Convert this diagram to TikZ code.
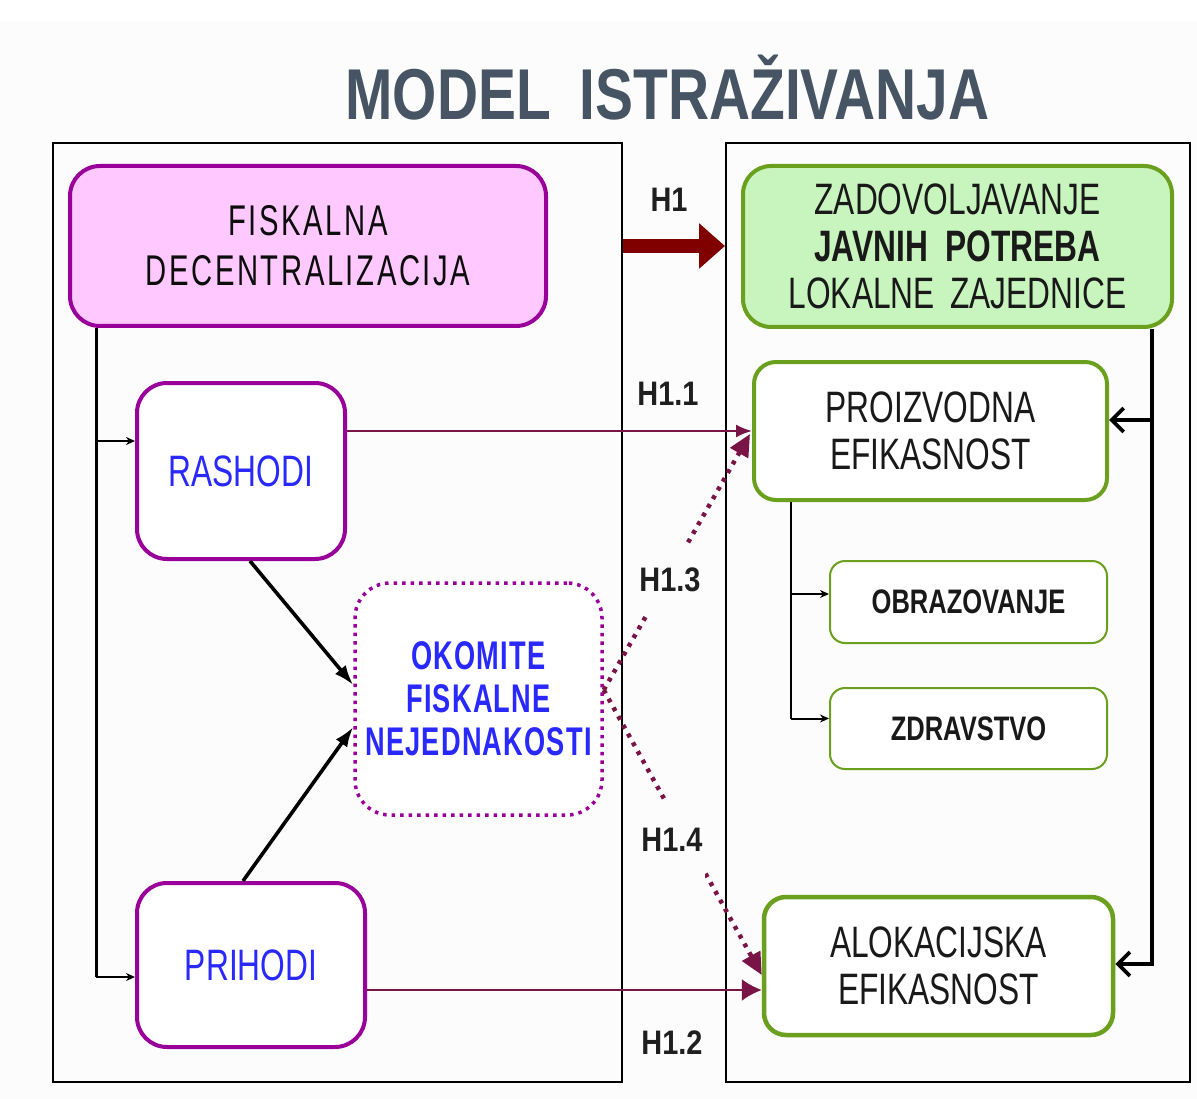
\documentclass[tikz,border=0pt]{standalone}
\usepackage{fontspec}
\usetikzlibrary{arrows.meta,calc}
\newfontfamily\nar[FakeStretch=0.72]{Liberation Sans}
\newfontfamily\narf[FakeStretch=0.68,LetterSpace=6]{Liberation Sans}
\newfontfamily\narb[FakeStretch=0.68,LetterSpace=3]{Liberation Sans}
\newfontfamily\narc[FakeStretch=0.75]{Liberation Sans}
\newfontfamily\labf[FakeStretch=0.85]{Liberation Sans}
\newfontfamily\ttlf[FakeStretch=0.79]{Liberation Sans}
\definecolor{bg}{RGB}{252,252,252}
\definecolor{ttl}{RGB}{70,84,100}
\definecolor{pinkf}{RGB}{255,200,255}
\definecolor{purp}{RGB}{153,0,153}
\definecolor{blu}{RGB}{40,40,255}
\definecolor{grn}{RGB}{106,160,30}
\definecolor{grnf}{RGB}{200,245,190}
\definecolor{darkred}{RGB}{128,0,0}
\definecolor{plum}{RGB}{120,20,70}
\begin{document}
\begin{tikzpicture}[x=1pt,y=-1pt,
  cont/.style={draw=black,line width=2pt,inner sep=0pt},
  pbox/.style={draw=purp,line width=4pt,align=center,inner sep=0pt},
  gbox/.style={draw=grn,line width=4pt,align=center,inner sep=0pt,fill=white},
  sbox/.style={draw=grn,line width=2pt,align=center,inner sep=0pt,fill=white,rounded corners=15pt,
    minimum width=277pt,font={\narc\bfseries\fontsize{34}{40}\selectfont},text=black!90},
  bigtxt/.style={font={\nar\fontsize{44}{47}\selectfont},text=black!90},
  hlab/.style={font={\labf\bfseries\fontsize{34}{34}\selectfont},text=black!88,inner sep=2pt},
  trunk/.style={draw=black,line width=3pt},
  branch/.style={draw=black,line width=2pt,-{Stealth[length=9pt,width=8pt]}},
  hlink/.style={draw=plum,line width=2.2pt},
  dlink/.style={draw=plum,line width=4.5pt,dash pattern=on 4pt off 6pt,-{Triangle[length=22pt,width=20pt]}},
  rarrow/.style={draw=black,line width=3.8pt,-{Straight Barb[length=12pt,width=24pt]}}
]
\useasboundingbox (0,0) rectangle (1197,1099);
\fill[bg] (0,0) rectangle (1197,1099);
\fill[white] (0,0) rectangle (1197,22);

% title
\node[font={\ttlf\bfseries\fontsize{72}{72}\selectfont},text=ttl,anchor=base,inner sep=0pt] (T) at (667.5,120) {MODEL\hspace{0.4em}ISTRAŽIVANJA};

% containers
\node[cont,minimum width=569pt,minimum height=939pt] (LBOX) at (337.5,612.5) {};
\node[cont,minimum width=464pt,minimum height=939pt] (RBOX) at (958,612.5) {};

% left boxes
\node[pbox,fill=pinkf,rounded corners=30pt,minimum width=476pt,minimum height=160pt,
  font={\narf\fontsize{43}{50}\selectfont},text=black!95] (FISK) at (308,246) {FISKALNA\\DECENTRALIZACIJA};
\node[pbox,fill=white,rounded corners=30pt,minimum width=208pt,minimum height=176pt,
  font={\nar\fontsize{44}{47}\selectfont},text=blu] (RASH) at (241,471) {RASHODI};
\node[pbox,fill=white,rounded corners=30pt,minimum width=228pt,minimum height=164pt,
  font={\nar\fontsize{44}{47}\selectfont},text=blu] (PRIH) at (251,965) {PRIHODI};
\node[draw=purp,line width=3.5pt,dash pattern=on 3.5pt off 5pt,rounded corners=35pt,fill=white,
  align=center,inner sep=0pt,minimum width=247pt,minimum height=232pt,
  font={\narb\bfseries\fontsize{40}{43}\selectfont},text=blu] (OKOM) at (478.5,699) {OKOMITE\\FISKALNE\\NEJEDNAKOSTI};

% right boxes
\node[gbox,fill=grnf,rounded corners=28pt,minimum width=429pt,minimum height=161pt,bigtxt] (ZADO) at (957.5,246.5)
  {ZADOVOLJAVANJE\\\textbf{JAVNIH\hspace{0.4em}POTREBA}\\LOKALNE\hspace{0.35em}ZAJEDNICE};
\node[gbox,rounded corners=22pt,minimum width=353pt,minimum height=138pt,bigtxt] (PROI) at (930.5,431) {PROIZVODNA\\EFIKASNOST};
\node[sbox,minimum height=82pt] (OBRA) at (968.5,602) {OBRAZOVANJE};
\node[sbox,minimum height=81pt] (ZDRA) at (968.5,728.5) {ZDRAVSTVO};
\node[gbox,line width=4.5pt,rounded corners=22pt,minimum width=349pt,minimum height=138pt,bigtxt] (ALOK) at (938.5,966) {ALOKACIJSKA\\EFIKASNOST};

% left trunk
\coordinate (t0) at ($(FISK.south west)+(28,0)$);
\coordinate (pL) at ($(PRIH.west)+(0,12)$);
\coordinate (rL) at ($(RASH.west)+(0,-30)$);
\draw[trunk] (t0) -- (t0 |- pL);
\draw[branch] (t0 |- pL) -- (pL);
\draw[branch] (t0 |- rL) -- (rL);

% into OKOMITE
\draw[black,line width=3.6pt,-{Latex[length=20pt,width=14pt]}] ($(RASH.south)+(9,0)$) -- ($(OKOM.west)+(0,-14)$);
\draw[black,line width=3.6pt,-{Latex[length=20pt,width=14pt]}] ($(PRIH.north)+(-8,0)$) -- ($(OKOM.west)+(0,28)$);

% right trunk
\coordinate (t1) at ($(ZADO.south east)+(-22,0)$);
\coordinate (pR) at ($(PROI.east)+(0,-11)$);
\coordinate (aR) at ($(ALOK.east)+(0,-2)$);
\draw[rarrow] (t1) |- (aR);
\draw[rarrow] (t1 |- pR) -- (pR);

% inner trunk
\coordinate (t2) at ($(PROI.south west)+(39,0)$);
\coordinate (oL) at ($(OBRA.west)+(0,-8)$);
\coordinate (zL) at ($(ZDRA.west)+(0,-10)$);
\draw[black,line width=2pt] (t2) -- (t2 |- zL);
\draw[branch] (t2 |- oL) -- (oL);
\draw[branch] (t2 |- zL) -- (zL);

% H1
\draw[darkred,line width=14pt,-{Triangle[length=26pt,width=44pt]}] (LBOX.east |- FISK.east) -- (RBOX.west |- FISK.east);
\node[hlab] (h1) at (669,200) {H1};

% H1.1, H1.2
\draw[hlink,-{Latex[length=16pt,width=13pt]}] (RASH.east |- PROI.west) -- (PROI.west);
\node[hlab] (h11) at (668,394) {H1.1};
\draw[hlink,-{Latex[length=20pt,width=22pt]}] ($(PRIH.east)+(0,25)$) -- ($(ALOK.west)+(0,24)$);
\node[hlab] (h12) at (672,1043) {H1.2};

% H1.3, H1.4 dotted
\coordinate (oR) at ($(OKOM.east)+(0,-9)$);
\draw[dlink] (oR) -- ($(PROI.west)+(-2,3)$);
\draw[dlink] (oR) -- ($(ALOK.west)+(0,9)$);
\node[hlab,fill=bg,minimum width=62pt,minimum height=70pt] (h13) at (670,580) {H1.3};
\node[hlab,fill=bg,minimum width=66pt,minimum height=78pt] (h14) at (672,840) {H1.4};
\end{tikzpicture}
\end{document}
